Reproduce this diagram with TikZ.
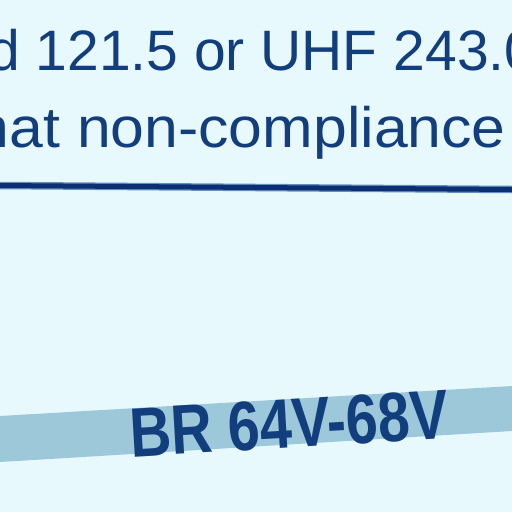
\documentclass[tikz,border=0pt]{standalone}
\usepackage{fontspec}
\setmainfont{Liberation Sans}
\definecolor{bgcol}{HTML}{E8F9FD}
\definecolor{inkcol}{HTML}{123E7E}
\definecolor{bandcol}{HTML}{9CC8DA}
\definecolor{rulecol}{HTML}{0C2F74}
\definecolor{rulelight}{HTML}{6190BC}
\begin{document}
\begin{tikzpicture}[x=1pt, y=-1pt, line/.style={inner sep=0pt, text=inkcol, font=\fontsize{57}{60}\selectfont}, label/.style={inner sep=0pt, text=inkcol, font=\fontsize{70}{72}\selectfont\bfseries, rotate=3.35, xscale=0.82}]
		\fill[bgcol] (0,0) rectangle (512,512);
		\useasboundingbox (0,0) rectangle (512,512);
		% band
		\fill[bandcol] (0,416) -- (512,386) -- (512,431) -- (0,462) -- cycle;
		% text
		\node[line, anchor=base west] (1) at (-12,70) {d 121.5 or UHF 243.0};
		\node[line, anchor=base east, xscale=1.065] (2) at (506,147) {hat non-compliance};
		\coordinate (a) at (0,185.5);
		\coordinate (b) at (512,189.5);
		\draw[rulelight, line width=7.5pt] (a) -- (b);
		\draw[rulecol, line width=5pt] (a) -- (b);
		\node[label] (3) at (289,424) {BR 64V-68V};
	\end{tikzpicture}
\end{document}
